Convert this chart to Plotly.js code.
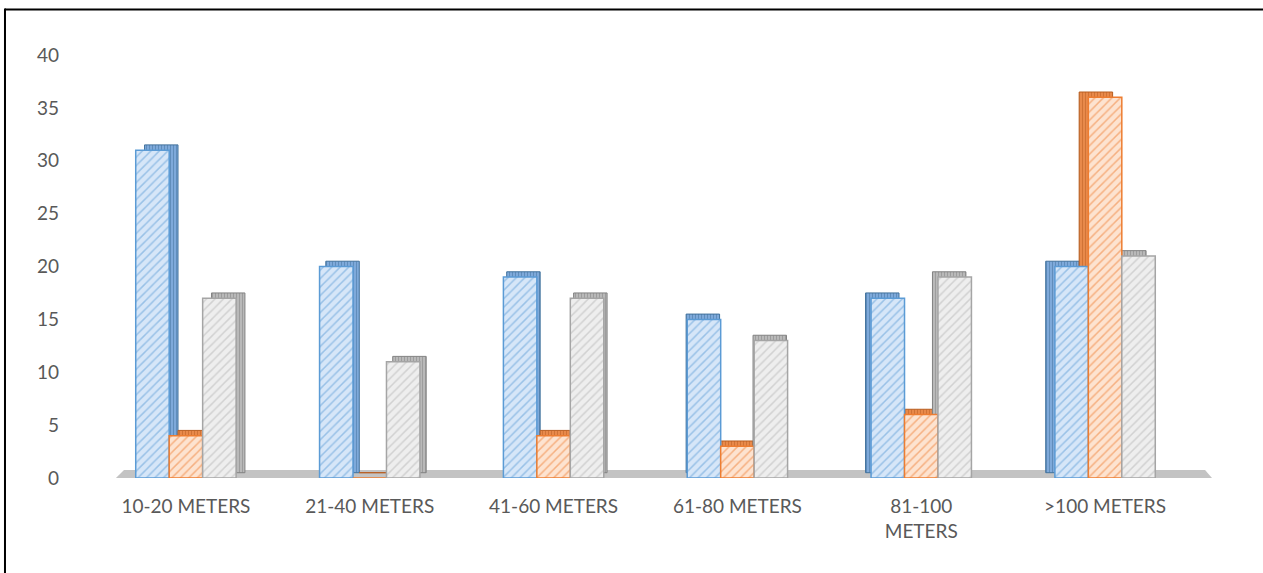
<!DOCTYPE html>
<html>
<head>
<meta charset="utf-8">
<script src="https://cdn.plot.ly/plotly-3.0.1.min.js"></script>
<style>
  html, body { margin: 0; padding: 0; background: #ffffff; }
  #chart { width: 1263px; height: 573px; }
</style>
</head>
<body>
<div id="chart"></div>
<script>
// Distance bands and the three counts recorded for each band
const categories = ["10-20 METERS", "21-40 METERS", "41-60 METERS", "61-80 METERS", "81-100 METERS", ">100 METERS"];
const tickLabels = ["10-20 METERS", "21-40 METERS", "41-60 METERS", "61-80 METERS", "81-100<br>METERS", ">100 METERS"];
const seriesBlue = [31, 20, 19, 15, 17, 20];
const seriesOrange = [4, 0, 4, 3, 6, 36];
const seriesGray = [17, 11, 17, 13, 19, 21];

const BAR_W = 0.182;   // width of one bar in category units
const CAP = 0.5;       // how far the back of each column rises above its front face
// sideways shift of the back of each column group (perspective: right sides on the left, left sides on the right)
const DEPTH_SHIFT = [0.048, 0.034, 0.018, -0.006, -0.03, -0.05];

const styles = [
  { vals: seriesBlue,   slot: -1.5, bg: "#d6e6f8", fg: "#5b9bd5", edge: "#5b9bd5", backBg: "#7ea9da", backFg: "#41719c" },
  { vals: seriesOrange, slot: -0.5, bg: "#fde3d0", fg: "#ed7d31", edge: "#ed7d31", backBg: "#e8894a", backFg: "#b85e21" },
  { vals: seriesGray,   slot:  0.5, bg: "#eeeeee", fg: "#b4b4b4", edge: "#a5a5a5", backBg: "#b9b9b9", backFg: "#828282" }
];

const backs = [];
const fronts = [];
styles.forEach(s => {
  // back of the column: shifted and raised, so a side strip and a top strip show
  backs.push({
    type: "bar",
    x: categories,
    y: s.vals,
    base: CAP,
    width: BAR_W,
    offset: DEPTH_SHIFT.map(d => s.slot * BAR_W + d),
    marker: {
      color: s.backBg,
      line: { color: s.backFg, width: 1 },
      pattern: { shape: "|", bgcolor: s.backBg, fgcolor: s.backFg, size: 3, solidity: 0.35, fillmode: "overlay" }
    },
    hoverinfo: "skip",
    showlegend: false
  });
  // front face with diagonal hatching
  fronts.push({
    type: "bar",
    x: categories,
    y: s.vals,
    width: BAR_W,
    offset: s.slot * BAR_W,
    marker: {
      color: s.bg,
      line: { color: s.edge, width: 1.5 },
      pattern: { shape: "/", bgcolor: s.bg, fgcolor: s.fg, size: 6, solidity: 0.25, fillmode: "overlay" }
    },
    hoverinfo: "skip",
    showlegend: false
  });
});

const layout = {
  width: 1263,
  height: 573,
  margin: { l: 94, r: 66, t: 55, b: 95 },
  paper_bgcolor: "#ffffff",
  plot_bgcolor: "rgba(0,0,0,0)",
  barmode: "overlay",
  showlegend: false,
  font: { family: "Lato, 'Open Sans', sans-serif", size: 19, color: "#595959" },
  xaxis: {
    type: "category",
    range: [-0.5, 5.5],
    tickvals: categories,
    ticktext: tickLabels,
    showgrid: false,
    zeroline: false,
    showline: false,
    ticks: "",
    ticklabelstandoff: 15,
    tickfont: { family: "Lato, 'Open Sans', sans-serif", size: 19, color: "#595959" }
  },
  yaxis: {
    range: [0, 40],
    dtick: 5,
    tick0: 0,
    showgrid: false,
    zeroline: false,
    showline: false,
    ticks: "",
    ticklabelstandoff: 34,
    tickfont: { family: "Lato, 'Open Sans', sans-serif", size: 19, color: "#595959" }
  },
  shapes: [
    // floor slab under the columns
    {
      type: "path", xref: "paper", yref: "y", layer: "below",
      path: "M 0.0199 0 L 1.0136 0 L 1.0073 0.75 L 0.0272 0.75 Z",
      fillcolor: "#c3c3c3", line: { width: 0 }
    },
    // frame lines
    { type: "line", xref: "paper", yref: "paper", x0: -0.0807, x1: -0.0807, y0: -0.3, y1: 1.11,
      line: { color: "#000000", width: 2 } },
    { type: "line", xref: "paper", yref: "paper", x0: -0.0807, x1: 1.07, y0: 1.1076, y1: 1.1076,
      line: { color: "#000000", width: 2 } }
  ]
};

Plotly.newPlot("chart", backs.concat(fronts), layout, { staticPlot: true, displayModeBar: false });
</script>
</body>
</html>
